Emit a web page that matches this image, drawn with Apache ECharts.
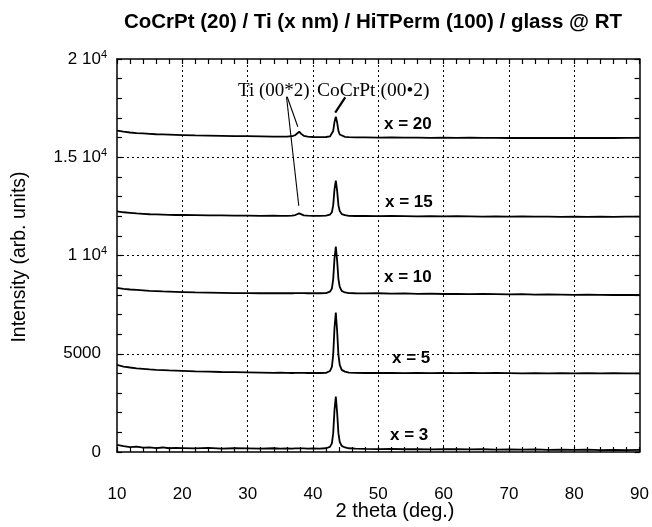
<!DOCTYPE html>
<html>
<head>
<meta charset="utf-8">
<script src="https://cdn.jsdelivr.net/npm/echarts@6/dist/echarts.min.js"></script>
<style>
html,body{margin:0;padding:0;background:#fff;}
#chart{width:652px;height:527px;}
</style>
</head>
<body>
<div id="chart"></div>
<script>
// ---- data ----
const theta = [10,11,12,13,14,15,16,17,18,19,20,22,24,26,28,30,32,34,35,36,36.8,37.3,37.6,37.9,38.2,38.6,39.2,40,41,42,42.6,42.9,43.1,43.3,43.5,43.7,43.9,44.1,44.4,44.9,45.5,46.5,48,50,52,54,56,58,60,62,64,66,68,70,72,74,76,78,80,82,84,86,88,90];

const intensityX3 = [360,300,250,270,220,240,200,230,190,210,200,180,210,170,190,180,170,190,170,180,170,180,175,185,170,180,170,180,175,190,260,440,960,2140,2815,2010,960,520,310,230,190,170,160,150,160,140,150,130,150,140,130,140,120,130,120,130,110,120,110,120,100,110,100,110];
const intensityX5 = [4430,4350,4300,4260,4230,4200,4180,4170,4150,4140,4130,4100,4090,4070,4060,4050,4040,4030,4040,4030,4020,4030,4020,4030,4020,4030,4020,4030,4020,4030,4120,4330,4950,6330,7090,6170,4950,4430,4180,4090,4040,4030,4020,4030,4020,4010,4020,4010,4020,4010,4020,4010,4020,4010,4000,4010,4000,4010,4000,4010,4000,4010,4000,4000];
const intensityX10 = [8350,8300,8270,8250,8230,8200,8190,8170,8160,8150,8140,8120,8110,8100,8090,8090,8080,8090,8080,8090,8080,8090,8080,8090,8080,8090,8080,8080,8080,8090,8160,8320,8800,9860,10450,9750,8800,8400,8200,8120,8090,8080,8070,8080,8060,8070,8050,8060,8040,8050,8030,8040,8030,8020,8030,8010,8020,8010,8000,8010,8000,7990,8000,7990];
const intensityX15 = [12250,12200,12170,12140,12120,12100,12090,12080,12070,12060,12060,12050,12040,12040,12030,12030,12020,12030,12020,12020,12030,12060,12110,12140,12090,12040,12030,12020,12020,12030,12080,12200,12560,13380,13810,13300,12560,12260,12110,12050,12020,12010,12010,12000,12010,12000,11990,12000,11990,12000,11990,11980,11990,11980,11990,11980,11980,11970,11980,11970,11980,11970,11980,11975];
const intensityX20 = [16350,16300,16260,16230,16210,16190,16170,16160,16150,16140,16130,16110,16100,16090,16080,16070,16060,16050,16050,16050,16070,16130,16230,16300,16190,16090,16050,16030,16020,16030,16060,16130,16340,16800,17065,16780,16340,16160,16070,16040,16020,16010,16010,16000,16010,16000,16000,15990,16000,15990,16000,15990,15990,15980,15990,15980,15990,15980,15990,15980,15990,15980,15990,15985];

const seriesNames = ['x = 3','x = 5','x = 10','x = 15','x = 20'];
const seriesValues = [intensityX3, intensityX5, intensityX10, intensityX15, intensityX20];

const xTickValues = [10,20,30,40,50,60,70,80,90];
const yTickValues = [0,5000,10000,15000,20000];
const yTickLabels = ['0{p| }','5000{p| }','1 10{s|4}','1.5 10{s|4}','2 10{s|4}'];

const titleText = 'CoCrPt (20) / Ti (x nm) / HiTPerm (100) / glass @ RT';
const xAxisTitle = '2 theta (deg.)';
const yAxisTitle = 'Intensity (arb. units)';
const annTi = 'Ti (00*2)';
const annCo = 'CoCrPt (00\u20222)';

// ---- chart ----
const SANS = '"Liberation Sans", Arial, Helvetica, sans-serif';
const SERIF = '"Liberation Serif", "Times New Roman", serif';
const chart = echarts.init(document.getElementById('chart'), null, {renderer:'canvas'});

const frameAxisCommon = {
  type:'value',
  axisLine:{show:true, onZero:false, lineStyle:{color:'#000', width:1.5}},
  axisTick:{show:true, inside:true, length:5, lineStyle:{color:'#000', width:1.2}},
  minorTick:{show:false},
  splitLine:{show:false}
};

const series = seriesNames.map((name, i) => ({
  name: name,
  type:'line',
  xAxisIndex:0, yAxisIndex:0,
  data: theta.map((t, k) => [t, seriesValues[i][k]]),
  showSymbol:false,
  symbol:'none',
  smooth:false,
  lineStyle:{color:'#000', width:1.8},
  emphasis:{disabled:true},
  silent:true,
  z:3
}));

// dotted grid lines at the labelled ticks
series.push({
  type:'line', data:[], xAxisIndex:0, yAxisIndex:0, silent:true, z:1,
  markLine:{
    symbol:['none','none'], silent:true, animation:false,
    label:{show:false},
    lineStyle:{color:'#000', type:[2,3], width:1},
    emphasis:{disabled:true},
    data: xTickValues.slice(1, -1).map(v => ({xAxis:v}))
      .concat(yTickValues.slice(1, -1).map(v => ({yAxis:v})))
  }
});

// leader lines of the peak annotations
series.push({
  type:'line', data:[], xAxisIndex:0, yAxisIndex:0, silent:true, z:4,
  markLine:{
    symbol:['none','none'], silent:true, animation:false,
    label:{show:false},
    lineStyle:{color:'#000', type:'solid', width:1.1},
    emphasis:{disabled:true},
    data:[
      [{coord:[36.05,18081]},{coord:[37.68,16555]}],
      [{coord:[35.95,18081]},{coord:[37.83,12534]}],
      [{coord:[44.94,18051], lineStyle:{width:2.2}},{coord:[43.41,17267]}]
    ]
  }
});

const textEl = (txt, x, y, font, align, vAlign, rot) => ({
  type:'text', x:x, y:y, rotation: rot || 0, silent:true,
  style:{text:txt, font:font, fill:'#000', textAlign:align, textVerticalAlign:vAlign, align:align, verticalAlign:vAlign}
});

chart.setOption({
  animation:false,
  backgroundColor:'#fff',
  grid:{left:117, right:9, top:59, bottom:75, containLabel:false},
  xAxis:[
    Object.assign({}, frameAxisCommon, {
      position:'bottom', min:10, max:90, interval:2,
      axisLabel:{show:true, margin:34, color:'#000', fontFamily:SANS, fontSize:17,
        formatter: v => xTickValues.indexOf(v) >= 0 ? String(v) : ''}
    }),
    Object.assign({}, frameAxisCommon, {
      position:'top', min:10, max:90, interval:2,
      axisLabel:{show:false}
    })
  ],
  yAxis:[
    Object.assign({}, frameAxisCommon, {
      position:'left', min:0, max:20000, interval:1000,
      axisLabel:{show:true, margin:10, color:'#000', fontFamily:SANS, fontSize:17,
        formatter: v => { const k = yTickValues.indexOf(v); return k >= 0 ? yTickLabels[k] : ''; },
        rich:{
          s:{fontSize:11, fontFamily:SANS, color:'#000', verticalAlign:'top', lineHeight:20},
          p:{width:6, fontSize:11}
        }
      }
    }),
    Object.assign({}, frameAxisCommon, {
      position:'right', min:0, max:20000, interval:1000,
      axisLabel:{show:false}
    })
  ],
  graphic:[
    textEl(titleText, 373, 22, 'bold 20.5px ' + SANS, 'center', 'middle'),
    textEl(xAxisTitle, 395, 511, '20px ' + SANS, 'center', 'middle'),
    textEl(yAxisTitle, 20, 257, '19.5px ' + SANS, 'center', 'middle', Math.PI/2),
    textEl(annTi, 238, 91, '19px ' + SERIF, 'left', 'middle'),
    textEl(annCo, 317, 91, '19.5px ' + SERIF, 'left', 'middle'),
    textEl('x = 20', 384, 124, 'bold 17px ' + SANS, 'left', 'middle'),
    textEl('x = 15', 385, 202, 'bold 17px ' + SANS, 'left', 'middle'),
    textEl('x = 10', 384, 277, 'bold 17px ' + SANS, 'left', 'middle'),
    textEl('x = 5', 392, 358, 'bold 17px ' + SANS, 'left', 'middle'),
    textEl('x = 3', 390, 435, 'bold 17px ' + SANS, 'left', 'middle')
  ],
  series: series
});
</script>
</body>
</html>
